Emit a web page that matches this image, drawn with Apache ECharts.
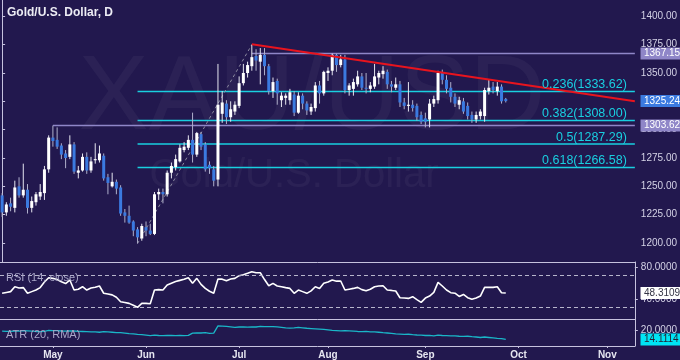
<!DOCTYPE html>
<html><head><meta charset="utf-8">
<script src="https://cdn.jsdelivr.net/npm/echarts@6/dist/echarts.min.js"></script>
<style>html,body{margin:0;padding:0;background:#22184e;}#c{width:680px;height:360px;}</style>
</head><body><div id="c"></div>
<script>
// ---------- data ----------
const opens = [1242,1227,1235,1231,1250,1242,1247,1231,1236,1241,
1244,1265,1293,1291,1286,1279,1276,1287,1262,1264,
1276,1264,1273,1273,1277,1258,1250,1254,1249,1227,
1224,1219,1212,1204,1214,1211,1208,1243,1245,1243,
1262,1267,1272,1282,1284,1291,1278,1296,1287,1269,
1265,1256,1314,1323,1311,1316,1321,1341,1350,1356,
1365,1360,1366,1356,1334,1343,1326,1328,1326,1331,
1315,1330,1323,1316,1319,1339,1332,1350,1352,1366,
1357,1362,1335,1336,1340,1347,1337,1336,1338,1346,
1349,1351,1340,1337,1340,1324,1321,1322,1321,1313,
1310,1309,1323,1326,1350,1344,1337,1329,1322,1325,
1321,1313,1309,1312,1312,1334,1338,1334,1338,1327];
const highs = [1244,1236,1240,1255,1258,1270,1252,1241,1245,1252,
1268,1295,1303.62,1302,1288,1282,1295,1289,1268,1279,
1280,1276,1288,1286,1279,1261,1262,1256,1251,1230,
1233,1220,1214,1217,1219,1217,1245,1248,1248,1264,
1271,1278,1287,1289,1295,1315,1298,1298,1289,1272,
1268,1358,1334,1326,1325,1325,1347,1358,1360,1375.03,
1371,1372,1372,1358,1346,1345,1333,1332,1336,1334,
1333,1332,1325,1323,1342,1343,1352,1355,1367.15,1367,
1366,1366,1341,1345,1352,1350,1350,1342,1358,1352,
1356,1353,1343,1346,1343,1328,1342,1326,1323,1316,
1315,1327,1330,1352,1353,1348,1342,1332,1329,1328,
1324,1316,1316,1318,1337,1344,1342,1342,1340,1328];
const lows = [1223,1224,1228,1227,1240,1240,1226,1227,1233,1238,
1238,1262,1285,1283,1274,1266,1274,1261,1257,1263,
1261,1262,1270,1271,1255,1243,1249,1243,1224,1218,
1217,1206,1199.55,1202,1206,1207,1207,1238,1235,1241,
1257,1264,1271,1280,1282,1271,1276,1282,1263,1261,
1250,1250,1306,1305,1307,1313,1319,1339,1346,1352,
1352,1340,1348,1331,1328,1322,1320,1322,1322,1312,
1314,1318,1313,1313,1316,1323,1330,1343,1348,1351,
1355,1332,1330,1330,1338,1335,1332,1333,1336,1340,
1345,1336,1333,1335,1320,1318,1316,1316,1308,1305,
1302,1302,1320,1323,1340,1332,1324,1320,1318,1314,
1309,1306,1306,1309,1307,1331,1332,1330,1323,1324];
const closes = [1227,1234,1232,1249,1242,1247,1231,1237,1243,1245,
1265,1293,1290,1285,1278,1275,1287,1263,1264,1276,
1264,1272,1274,1279,1257,1253,1254,1248,1226,1224,
1218,1211,1205,1215,1211,1208,1243,1245,1243,1262,
1268,1274,1284,1285,1291,1278,1297,1285,1265,1266,
1255,1322,1324,1311,1318,1322,1341,1350,1357,1364,
1361,1366,1356,1334,1342,1332,1330,1330,1333,1315,
1330,1323,1317,1320,1339,1332,1351,1352,1366,1357,
1362,1335,1339,1342,1347,1337,1336,1339,1347,1350,
1352,1340,1338,1340,1324,1321,1322,1319,1311,1307,
1307,1323,1327,1350,1344,1336,1329,1323,1326,1316,
1312,1309,1313,1316,1335,1337,1335,1338,1325,1325.24];
const rsi = [47.9,49,50,56,54.5,55,48,50,52,55,
62,67.3,66.5,65,62.3,60,64.4,52,53,56.1,
52,54.5,55.5,57,48,47,46,43,37.5,36.5,
35.4,33,30.5,35.4,35.4,35,52,52.5,52,58.2,
60.5,62.5,64,65.5,67.3,60.3,66.5,59,54,50.5,
47.9,65.6,65.5,63.5,65.6,66.5,69.8,71,72.7,74.7,
73.5,73.5,65,57.3,60.3,57,56.1,55,54,47.9,
52,50,47.9,51,56.1,54,60.3,62,64.4,63,
63.2,52,53,54,55.3,52.5,51,53,56.1,57,
57.3,52,51.5,50.8,42.4,42,41.6,43.7,40,36.7,
42,44.5,49.1,61.5,57,52,48.7,48,44,46.5,
42.5,40.4,42,44.5,55.3,55.3,55.3,56.1,48.7,48.3109];
const atr = [19.5,19.4,19.4,19.6,19.5,19.8,19.7,19.5,19.3,19.2,
19.4,20.0,19.9,19.8,19.6,19.5,19.6,19.6,19.4,19.3,
19.2,19.0,19.0,18.8,19.2,19.0,18.8,18.6,18.5,18.2,
17.9,17.7,17.4,17.2,16.9,16.6,16.9,16.7,16.6,16.8,
16.7,16.6,16.8,16.6,16.8,18.2,18.4,18.3,18.5,18.1,
18.2,22.9,22.8,22.6,22.3,22.0,22.2,22.3,22.1,22.3,
22.2,22.6,22.5,22.4,22.4,22.3,22.0,21.7,21.5,21.6,
21.9,21.7,21.4,21.2,21.0,20.8,20.6,20.3,20.0,19.9,
19.7,19.9,19.7,19.5,19.3,19.2,19.3,19.0,19.0,18.8,
18.5,18.3,18.0,17.7,17.6,17.4,17.5,17.2,17.0,16.9,
16.7,16.8,16.5,16.9,16.7,16.6,16.5,16.4,16.2,16.1,
16.2,15.9,15.7,15.4,15.7,15.4,15.1,14.8,14.6,14.1114];
const fibRatios = ['0.236','0.382','0.5','0.618'];
const fibLevels = [1333.62,1308.00,1287.29,1266.58];
const swingLow = {idx:32, price:1199.55};
const swingHigh = {idx:59, price:1375.03};
const trendLine = [[59,1375.3],[149.5,1325.0]];
const levelLines = [{from:59, price:1367.15},{from:12, price:1303.62}];
const priceTicks = [1200,1225,1250,1275,1300,1325,1350,1375,1400];
const rsiTicks = [40,80];
const rsiBands = [70,30];
const atrTicks = [20];
const lastClose = 1325.24, lastRsi = 48.3109, lastAtr = 14.1114;
const monthNames = ['Jan','Feb','Mar','Apr','May','Jun','Jul','Aug','Sep','Oct','Nov','Dec'];
const nSlots = 150;

// weekday calendar categories from 2016-04-14
const categories = [];
(function(){let d=new Date(Date.UTC(2016,3,14));while(categories.length<nSlots){const w=d.getUTCDay();if(w!==0&&w!==6)categories.push(d.toISOString().slice(0,10));d.setUTCDate(d.getUTCDate()+1);}})();
const isMonthStart = categories.map((c,i)=> i>0 && c.slice(5,7)!==categories[i-1].slice(5,7));

const BG='#22184e', SEP='#c6c2de', LBL='#d4d2e6', CYAN='#19cfe0', BLUE='#3b7ae0', LAV='#8f86c8';
const chart = echarts.init(document.getElementById('c'), null, {renderer:'canvas'});

const candleData = opens.map((o,i)=>[i,o,closes[i],lows[i],highs[i]]);
function renderCandle(params, api){
  const i=api.value(0),o=api.value(1),c=api.value(2),l=api.value(3),h=api.value(4);
  const po=api.coord([i,o]),pc=api.coord([i,c]),pl=api.coord([i,l]),ph=api.coord([i,h]);
  const bull=c>=o, x=po[0];
  const top=Math.min(po[1],pc[1]), bot=Math.max(po[1],pc[1]);
  return {type:'group',children:[
    {type:'line',shape:{x1:x,y1:ph[1],x2:x,y2:pl[1]},style:{stroke:bull?'#e6e6f0':'#b0b0cc',lineWidth:1}},
    {type:'rect',shape:{x:x-1.5,y:top,width:3,height:Math.max(bot-top,1)},style:{fill:bull?'#ffffff':BLUE}}
  ]};
}
const gridL=-1.6, gridW=640.6;
const catAxis=(gi,extra)=>Object.assign({type:'category',gridIndex:gi,data:categories,boundaryGap:true,
  axisLine:{show:true,lineStyle:{color:SEP,width:1}},axisTick:{show:false},axisLabel:{show:false},splitLine:{show:false}},extra||{});
const fixed2=v=>v.toFixed(2), fixed4=v=>v.toFixed(4);
const overlay=[];
fibLevels.forEach(v=>overlay.push({type:'line',xAxisIndex:1,yAxisIndex:0,data:[[swingLow.idx,v],[149.5,v]],symbol:'none',silent:true,z:3,lineStyle:{color:CYAN,width:1.5}}));
levelLines.forEach(l=>overlay.push({type:'line',xAxisIndex:1,yAxisIndex:0,data:[[l.from,l.price],[149.5,l.price]],symbol:'none',silent:true,z:3,lineStyle:{color:LAV,width:1.5}}));
overlay.push({type:'line',xAxisIndex:1,yAxisIndex:0,data:[[swingLow.idx,swingLow.price],[swingHigh.idx,swingHigh.price]],symbol:'none',silent:true,z:3,lineStyle:{color:'#8c8aa0',width:1,type:[3,3]}});
overlay.push({type:'line',xAxisIndex:1,yAxisIndex:0,data:trendLine,symbol:'none',silent:true,z:6,lineStyle:{color:'#e8141e',width:2}});

chart.setOption({
  animation:false,
  backgroundColor:BG,
  grid:[{left:gridL,width:gridW,top:0,height:262},{left:gridL,width:gridW,top:262,height:57},{left:gridL,width:gridW,top:319,height:27.7}],
  xAxis:[
    catAxis(0),
    {type:'value',gridIndex:0,min:-0.5,max:149.5,show:false},
    catAxis(1),
    catAxis(2,{axisTick:{show:true,alignWithLabel:true,length:2,interval:(i)=>isMonthStart[i],lineStyle:{color:SEP}},
      axisLabel:{show:true,interval:(i)=>isMonthStart[i],formatter:v=>monthNames[+v.slice(5,7)-1],color:'#e6e6f0',fontSize:10,fontWeight:'bold',fontFamily:'Liberation Sans',margin:4}})
  ],
  yAxis:[
    {type:'value',gridIndex:0,position:'right',min:1183.24,max:1414.41,splitLine:{show:false},
      axisLine:{show:true,lineStyle:{color:SEP}},axisTick:{show:true,length:3,customValues:priceTicks,lineStyle:{color:SEP}},
      axisLabel:{show:true,customValues:priceTicks,formatter:fixed2,color:LBL,fontSize:10,fontFamily:'Liberation Sans',margin:6}},
    {type:'value',gridIndex:1,position:'right',min:16,max:86.8,splitLine:{show:false},
      axisLine:{show:true,lineStyle:{color:SEP}},axisTick:{show:true,length:3,customValues:rsiTicks,lineStyle:{color:SEP}},
      axisLabel:{show:true,customValues:rsiTicks,formatter:fixed4,color:LBL,fontSize:10,fontFamily:'Liberation Sans',margin:6}},
    {type:'value',gridIndex:2,position:'right',min:9.87,max:27.4,splitLine:{show:false},
      axisLine:{show:true,lineStyle:{color:SEP}},axisTick:{show:true,length:3,customValues:atrTicks,lineStyle:{color:SEP}},
      axisLabel:{show:true,customValues:atrTicks,formatter:fixed4,color:LBL,fontSize:10,fontFamily:'Liberation Sans',margin:6}}
  ],
  series:[
    {type:'custom',xAxisIndex:0,yAxisIndex:0,data:candleData,encode:{x:0,y:[1,2,3,4]},renderItem:renderCandle,clip:true,z:4},
    ...overlay,
    {type:'line',xAxisIndex:2,yAxisIndex:1,data:rsi,symbol:'none',lineStyle:{color:'#ffffff',width:1.6},z:4,
      markLine:{silent:true,symbol:'none',label:{show:false},lineStyle:{color:'#b8b6cc',type:[4,3],width:1},data:rsiBands.map(v=>({yAxis:v}))}},
    {type:'line',xAxisIndex:3,yAxisIndex:2,data:atr,symbol:'none',lineStyle:{color:'#1ab6c8',width:1.3},z:4}
  ]
});

// ---------- text overlays ----------
const g=[];
g.push({type:'text',x:312,y:100,z:0,style:{text:'XAU/USD',font:'105px "Liberation Sans"',fill:'rgba(255,255,255,0.045)',align:'center',verticalAlign:'middle'}});
g.push({type:'text',x:294,y:176,z:0,style:{text:'Gold/U.S. Dollar',font:'40px "Liberation Sans"',fill:'rgba(255,255,255,0.045)',align:'center',verticalAlign:'middle'}});
g.push({type:'text',x:7,y:13,z:50,style:{text:'Gold/U.S. Dollar, D',font:'bold 12px "Liberation Sans"',fill:'#ececf4',align:'left',verticalAlign:'middle'}});
g.push({type:'text',x:6,y:278,z:50,style:{text:'RSI (14, close)',font:'11px "Liberation Sans"',fill:'#a9a6c8',align:'left',verticalAlign:'middle'}});
g.push({type:'text',x:6,y:335,z:50,style:{text:'ATR (20, RMA)',font:'11px "Liberation Sans"',fill:'#a9a6c8',align:'left',verticalAlign:'middle'}});
fibLevels.forEach((v,k)=>{
  const p=chart.convertToPixel({xAxisIndex:1,yAxisIndex:0},[149.5,v]);
  g.push({type:'text',x:p[0]-8,y:p[1]-7,z:50,style:{text:fibRatios[k]+'('+v.toFixed(2)+')',font:'12.5px "Liberation Sans"',fill:CYAN,align:'right',verticalAlign:'middle'}});
});
function box(y,text,bg,fg){
  g.push({type:'rect',z:60,shape:{x:640.5,y:y-6,width:40,height:12},style:{fill:bg}});
  g.push({type:'text',z:61,x:644,y:y,style:{text:text,font:'10px "Liberation Sans"',fill:fg,align:'left',verticalAlign:'middle'}});
}
levelLines.forEach(l=>{const p=chart.convertToPixel({xAxisIndex:1,yAxisIndex:0},[149.5,l.price]);box(p[1],l.price.toFixed(2),LAV,'#ffffff');});
box(chart.convertToPixel({xAxisIndex:1,yAxisIndex:0},[149.5,lastClose])[1],lastClose.toFixed(2),BLUE,'#ffffff');
box(chart.convertToPixel({gridIndex:1},[0,lastRsi])[1],lastRsi.toFixed(4),'#ffffff','#333344');
box(chart.convertToPixel({gridIndex:2},[0,lastAtr])[1],lastAtr.toFixed(4),'#00e4f4','#223');
chart.setOption({graphic:g});
</script></body></html>
